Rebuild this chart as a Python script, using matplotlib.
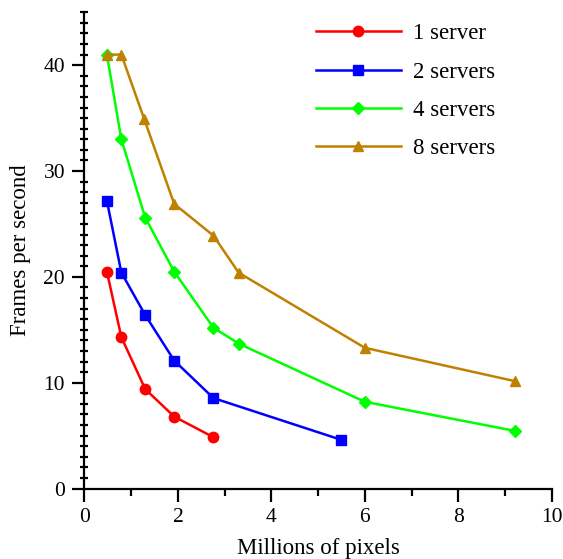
import matplotlib
matplotlib.use("Agg")
import matplotlib.pyplot as plt
from matplotlib.ticker import MultipleLocator

plt.rcParams["font.family"] = ["Liberation Serif", "DejaVu Serif"]
plt.rcParams["font.size"] = 16.5

# millions of pixels / frames per second
x_1 = [0.48, 0.79, 1.30, 1.92, 2.76]
fps_1 = [20.5, 14.3, 9.4, 6.8, 4.85]

x_2 = [0.48, 0.79, 1.30, 1.92, 2.76, 5.50]
fps_2 = [27.2, 20.4, 16.4, 12.1, 8.55, 4.6]

x_4 = [0.48, 0.79, 1.30, 1.92, 2.76, 3.30, 6.00, 9.21]
fps_4 = [41.0, 33.0, 25.6, 20.5, 15.2, 13.7, 8.2, 5.45]

x_8 = [0.48, 0.79, 1.28, 1.92, 2.76, 3.30, 6.00, 9.21]
fps_8 = [41.0, 41.0, 34.9, 26.9, 23.9, 20.4, 13.3, 10.15]

series = [
    (x_1, fps_1, "1 server", "#ff0000", "o", 7.5),
    (x_2, fps_2, "2 servers", "#0000ff", "s", 7.5),
    (x_4, fps_4, "4 servers", "#00ff00", "D", 6.5),
    (x_8, fps_8, "8 servers", "#c08000", "^", 7.5),
]

fig = plt.figure(figsize=(5.63, 5.59), dpi=100)
ax = fig.add_axes([0.150, 0.126, 0.830, 0.852])

for xs, ys, label, color, marker, ms in series:
    ax.plot(xs, ys, color=color, marker=marker, markersize=ms, linewidth=1.8,
            label=label, clip_on=False)

ax.set_xlim(0, 10)
ax.set_ylim(0, 45)
ax.xaxis.set_major_locator(MultipleLocator(2))
ax.xaxis.set_minor_locator(MultipleLocator(1))
ax.yaxis.set_major_locator(MultipleLocator(10))
ax.yaxis.set_minor_locator(MultipleLocator(1))

for side in ["top", "right"]:
    ax.spines[side].set_visible(False)
for side in ["left", "bottom"]:
    ax.spines[side].set_linewidth(1.6)

ax.tick_params(which="major", direction="out", length=9, width=1.6, pad=5,
               labelsize=15.5)
ax.tick_params(axis="x", which="minor", direction="out", length=5, width=1.6)
ax.tick_params(axis="y", which="minor", direction="inout", length=6, width=1.6)

ax.set_xlabel("Millions of pixels", labelpad=8)
ax.set_ylabel("Frames per second", labelpad=9)

ax.legend(loc="upper left", bbox_to_anchor=(0.495, 0.977), frameon=False,
          borderpad=0, borderaxespad=0, handlelength=3.7, handletextpad=0.55,
          labelspacing=0.75)

fig.savefig("out.png", dpi=100)
